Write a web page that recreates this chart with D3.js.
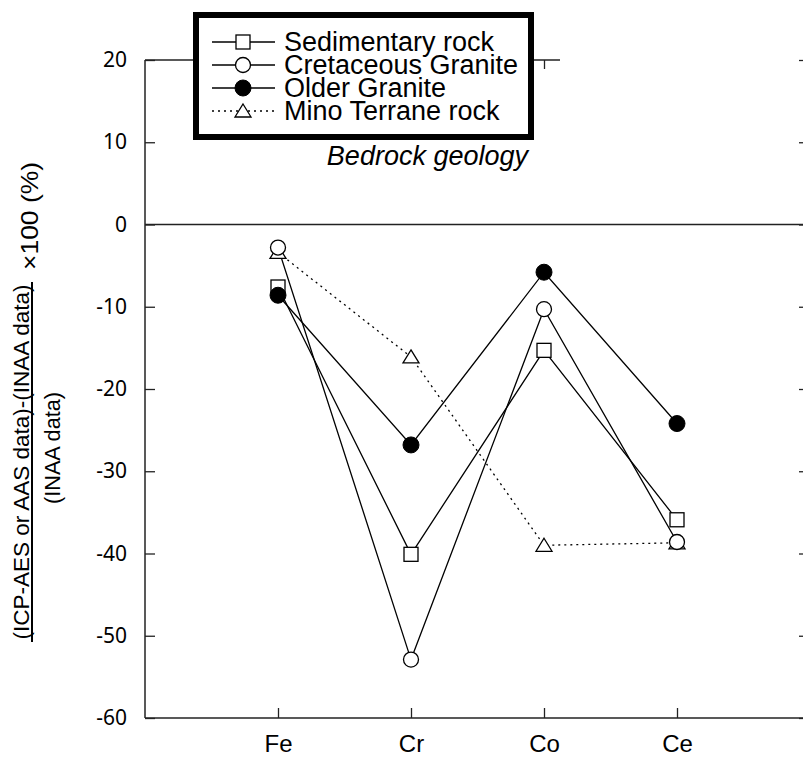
<!DOCTYPE html>
<html>
<head>
<meta charset="utf-8">
<script src="https://cdn.jsdelivr.net/npm/d3@7"></script>
<style>
  body { margin: 0; background: #fff; }
  svg { display: block; }
  text { fill: #000; }
</style>
</head>
<body>
<script>
// Elements on the x axis
const elements = ['Fe', 'Cr', 'Co', 'Ce'];

// Relative difference (%) per bedrock type
const sedimentary = [-7.6, -40.1, -15.3, -35.9];
const cretaceous = [-2.8, -52.9, -10.3, -38.6];
const older = [-8.6, -26.8, -5.8, -24.2];
const mino = [-3.4, -16.1, -39.0, -38.7];

const seriesNames = ['Sedimentary rock', 'Cretaceous Granite', 'Older Granite', 'Mino Terrane rock'];
const yTicks = [20, 10, 0, -10, -20, -30, -40, -50, -60];

const series = [
  { name: seriesNames[0], values: sedimentary, symbol: 'square', dash: null },
  { name: seriesNames[1], values: cretaceous, symbol: 'circle', dash: null },
  { name: seriesNames[2], values: older, symbol: 'dot', dash: null },
  { name: seriesNames[3], values: mino, symbol: 'triangle', dash: '2,4' }
];

const w = 803;
const h = 758;
const m = { left: 145, right: 810, top: 60, bottom: 718 };

const x = d3.scalePoint().domain(elements).range([m.left, m.right]).padding(1);
const y = d3.scaleLinear().domain([-60, 20]).range([m.bottom, m.top]);

const svg = d3.select('body').append('svg').attr('width', w).attr('height', h);

// Axes frame
const frame = svg.append('g').attr('stroke', '#222').attr('fill', 'none').attr('stroke-width', 1.5);
frame.append('line').attr('x1', m.left).attr('x2', m.left).attr('y1', m.top).attr('y2', m.bottom);
frame.append('line').attr('x1', m.left).attr('x2', m.right).attr('y1', m.bottom).attr('y2', m.bottom);
frame.append('line').attr('x1', m.right).attr('x2', m.right).attr('y1', m.top).attr('y2', m.bottom);
frame.append('line').attr('x1', m.left).attr('x2', 560).attr('y1', m.top).attr('y2', m.top);
// zero line
frame.append('line').attr('x1', m.left).attr('x2', m.right).attr('y1', y(0)).attr('y2', y(0));

// Left axis: inner ticks + labels (plain hyphen for negatives)
const yAxis = d3.axisLeft(y).tickValues(yTicks).tickSize(-10).tickFormat(d => String(d));
const gy = svg.append('g').attr('transform', `translate(${m.left},0)`).call(yAxis);
gy.select('.domain').remove();
gy.selectAll('.tick line').attr('stroke', '#222').attr('stroke-width', 1.3);
gy.selectAll('.tick text')
  .attr('font-family', "'Noto Sans', sans-serif")
  .attr('font-size', 21)
  .attr('x', -18);

// Right axis ticks (inward)
const gr = svg.append('g').attr('transform', `translate(${m.right},0)`)
  .call(d3.axisRight(y).tickValues(yTicks).tickSize(-11).tickFormat(''));
gr.select('.domain').remove();
gr.selectAll('.tick line').attr('stroke', '#222').attr('stroke-width', 1.3);

// Bottom axis
const xAxis = d3.axisBottom(x).tickSize(-10);
const gx = svg.append('g').attr('transform', `translate(0,${m.bottom})`).call(xAxis);
gx.select('.domain').remove();
gx.selectAll('.tick line').attr('stroke', '#222').attr('stroke-width', 1.3);
gx.selectAll('.tick text')
  .attr('font-family', "'Liberation Sans', sans-serif")
  .attr('font-size', 24)
  .attr('y', 34)
  .attr('dy', 0);

// Top axis ticks (only Co is visible beside the legend)
const gt = svg.append('g').attr('transform', `translate(0,${m.top})`)
  .call(d3.axisTop(x).tickValues(['Co']).tickSize(-9).tickFormat(''));
gt.select('.domain').remove();
gt.selectAll('.tick line').attr('stroke', '#222').attr('stroke-width', 1.3);

// Marker drawing
function drawMarker(g, symbol, cx, cy) {
  if (symbol === 'square') {
    g.append('rect').attr('x', cx - 7).attr('y', cy - 7).attr('width', 14).attr('height', 14)
      .attr('fill', '#fff').attr('stroke', '#000').attr('stroke-width', 1.3);
  } else if (symbol === 'circle') {
    g.append('circle').attr('cx', cx).attr('cy', cy).attr('r', 7.5)
      .attr('fill', '#fff').attr('stroke', '#000').attr('stroke-width', 1.3);
  } else if (symbol === 'dot') {
    g.append('circle').attr('cx', cx).attr('cy', cy).attr('r', 8)
      .attr('fill', '#000').attr('stroke', '#000');
  } else {
    g.append('path')
      .attr('d', `M${cx},${cy - 7}L${cx + 8},${cy + 6}L${cx - 8},${cy + 6}Z`)
      .attr('fill', '#fff').attr('stroke', '#000').attr('stroke-width', 1.3);
  }
}

const line = d3.line().x((d, i) => x(elements[i])).y(d => y(d));

// Lines first, then markers on top
series.forEach(s => {
  svg.append('path')
    .datum(s.values)
    .attr('d', line)
    .attr('fill', 'none')
    .attr('stroke', '#000')
    .attr('stroke-width', 1.3)
    .attr('stroke-dasharray', s.dash);
});
[series[3], series[0], series[1], series[2]].forEach(s => {
  const g = svg.append('g');
  s.values.forEach((v, i) => drawMarker(g, s.symbol, x(elements[i]), y(v)));
});

// Legend
const legend = svg.append('g');
legend.append('rect')
  .attr('x', 196).attr('y', 15).attr('width', 335).attr('height', 122)
  .attr('fill', '#fff').attr('stroke', '#000').attr('stroke-width', 6);
series.forEach((s, i) => {
  const cy = 42 + i * 23;
  legend.append('line')
    .attr('x1', 212).attr('x2', 275).attr('y1', cy).attr('y2', cy)
    .attr('stroke', '#000').attr('stroke-width', 1.3)
    .attr('stroke-dasharray', s.dash);
  drawMarker(legend, s.symbol, 243, cy);
  legend.append('text')
    .attr('x', 284).attr('y', cy + 9)
    .attr('font-family', "'Liberation Sans', Arial, sans-serif")
    .attr('font-size', 27)
    .text(s.name);
});

svg.append('text')
  .attr('x', 528).attr('y', 165)
  .attr('text-anchor', 'end')
  .attr('font-family', "'Liberation Sans', Arial, sans-serif")
  .attr('font-style', 'italic')
  .attr('font-size', 27)
  .text('Bedrock geology');

// Y axis label as a rotated fraction
const lab = svg.append('g')
  .attr('font-family', "'Liberation Sans', sans-serif")
  .attr('font-size', 22);
lab.append('text')
  .attr('transform', 'translate(29,462) rotate(-90)')
  .attr('text-anchor', 'middle')
  .attr('textLength', 355)
  .attr('lengthAdjust', 'spacingAndGlyphs')
  .text('(ICP-AES or AAS data)-(INAA data)');
// fraction bar
lab.append('line')
  .attr('x1', 32).attr('x2', 32).attr('y1', 282).attr('y2', 642)
  .attr('stroke', '#000').attr('stroke-width', 2);
lab.append('text')
  .attr('transform', 'translate(60,448) rotate(-90)')
  .attr('text-anchor', 'middle')
  .attr('textLength', 112)
  .attr('lengthAdjust', 'spacingAndGlyphs')
  .text('(INAA data)');
lab.append('text')
  .attr('transform', 'translate(38,270) rotate(-90)')
  .attr('text-anchor', 'start')
  .attr('font-size', 24)
  .attr('textLength', 108)
  .attr('lengthAdjust', 'spacingAndGlyphs')
  .text('\u00d7100 (%)');
</script>
</body>
</html>
